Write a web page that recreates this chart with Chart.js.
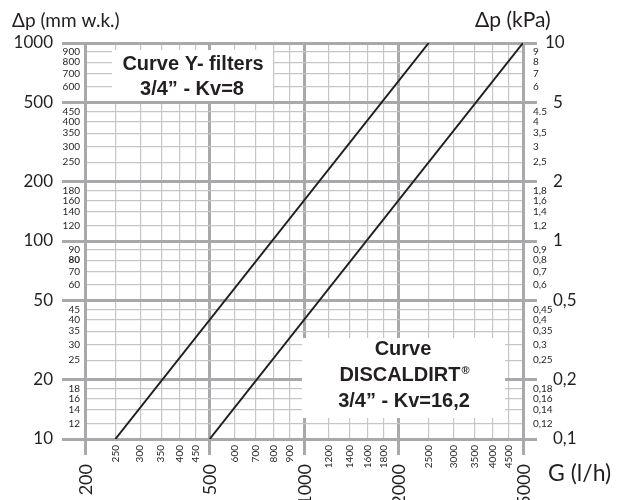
<!DOCTYPE html>
<html>
<head>
<meta charset="utf-8">
<script src="https://cdn.jsdelivr.net/npm/chart.js@4.4.1/dist/chart.umd.min.js"></script>
<style>
  html, body { margin: 0; padding: 0; background: #fff; }
  #wrap { width: 617px; height: 500px; }
</style>
</head>
<body>
<div id="wrap"><canvas id="chart" width="617" height="500"></canvas></div>
<script>
// flow rate G (l/h) grid values
const flowMajor = [200, 500, 1000, 2000, 5000];
const flowMinor = [250, 300, 350, 400, 450, 600, 700, 800, 900, 1200, 1400, 1600, 1800, 2500, 3000, 3500, 4000, 4500];
// pressure drop in mm w.k.
const dpMajor = [10, 20, 50, 100, 200, 500, 1000];
const dpMinor = [12, 14, 16, 18, 25, 30, 35, 40, 45, 60, 70, 80, 90, 120, 140, 160, 180, 250, 300, 350, 400, 450, 600, 700, 800, 900];
// pressure drop in kPa (right side labels)
const kpaMajor = ["10", "5", "2", "1", "0,5", "0,2", "0,1"];
const kpaMinor = ["9", "8", "7", "6", "4.5", "4", "3,5", "3", "2,5", "1,8", "1,6", "1,4", "1,2", "0,9", "0,8", "0,7", "0,6", "0,45", "0,4", "0,35", "0,3", "0,25", "0,18", "0,16", "0,14", "0,12"];

// the two curves (end points)
const yFilterFlow = [250, 2500];
const yFilterDp = [10, 1000];
const discalFlow = [500, 5000];
const discalDp = [10, 1000];

const kpaValue = s => parseFloat(s.replace(",", "."));

const MAJOR = "#a9a9ab";
const MINOR = "#c6c6c8";
const INK = "#231f20";
const LABEL_FONT = "Lato, 'DejaVu Sans', sans-serif";
const BOX_FONT = "bold 20px 'Liberation Sans', Arial, sans-serif";
const SMALL = "10px " + LABEL_FONT;

const isMajor = (list, v) => list.includes(v);

// draws the white text boxes, tick labels and axis titles
const labelPlugin = {
  id: "labels",
  beforeDatasetsDraw(chart) {
    const c = chart.ctx;
    c.save();
    c.fillStyle = "#fff";
    c.fillRect(112, 50, 161, 51);
    c.fillRect(302, 338, 203, 80);
    c.fillStyle = INK;
    c.font = BOX_FONT;
    c.textAlign = "center";
    c.textBaseline = "alphabetic";
    c.fillText("Curve Y- filters", 193, 70);
    c.fillText("3/4\u201d - Kv=8", 192, 95);
    c.fillText("Curve", 403, 355);
    // DISCALDIRT with a small raised ®
    const main = "DISCALDIRT";
    const w1 = c.measureText(main).width;
    c.font = "bold 11px 'Liberation Sans', Arial, sans-serif";
    const w2 = c.measureText("\u00ae").width;
    const start = 404 - (w1 + w2) / 2;
    c.textAlign = "left";
    c.fillText("\u00ae", start + w1 + 1, 374);
    c.font = BOX_FONT;
    c.fillText(main, start, 381);
    c.textAlign = "center";
    c.fillText("3/4\u201d - Kv=16,2", 404, 407);
    c.restore();
  },
  afterDraw(chart) {
    const c = chart.ctx;
    const x = chart.scales.x, y = chart.scales.y, y2 = chart.scales.y2;
    c.save();
    c.fillStyle = INK;

    // left axis
    c.textAlign = "right";
    c.textBaseline = "middle";
    c.font = "17px " + LABEL_FONT;
    dpMajor.forEach(v => c.fillText(String(v), 53, y.getPixelForValue(v)));
    dpMinor.forEach(v => {
      c.font = (v === 80 ? "bold " : "") + SMALL;
      c.fillText(String(v), 80, y.getPixelForValue(v));
    });

    // right axis
    c.textAlign = "left";
    c.font = "17px " + LABEL_FONT;
    kpaMajor.forEach(s => c.fillText(s, s === "10" ? 545 : 553, y2.getPixelForValue(kpaValue(s))));
    c.font = SMALL;
    kpaMinor.forEach(s => c.fillText(s, 533, y2.getPixelForValue(kpaValue(s))));

    // bottom axis, rotated labels
    const rot = (text, px, py, font) => {
      c.save();
      c.translate(px, py);
      c.rotate(-Math.PI / 2);
      c.font = font;
      c.textAlign = "right";
      c.textBaseline = "middle";
      c.fillText(text, 0, 0);
      c.restore();
    };
    flowMinor.forEach(v => rot(String(v), x.getPixelForValue(v), 445, SMALL));
    flowMajor.forEach(v => rot(String(v), x.getPixelForValue(v) + 1, 464, "18px " + LABEL_FONT));

    // axis titles
    c.textBaseline = "alphabetic";
    c.textAlign = "left";
    c.font = "19px " + LABEL_FONT;
    c.fillText("\u0394p (mm w.k.)", 12, 27);
    c.font = "21px " + LABEL_FONT;
    c.fillText("\u0394p (kPa)", 475, 27);
    c.font = "23px " + LABEL_FONT;
    c.fillText("G (l/h)", 548, 481);
    c.restore();
  }
};

const gridFor = (majors, len) => ({
  color: ctx => isMajor(majors, ctx.tick.value) ? MAJOR : MINOR,
  lineWidth: ctx => isMajor(majors, ctx.tick.value) ? 3 : 1.2,
  tickColor: ctx => isMajor(majors, ctx.tick.value) ? MAJOR : "rgba(0,0,0,0)",
  tickWidth: 3,
  tickLength: len
});

new Chart(document.getElementById("chart"), {
  type: "scatter",
  data: {
    datasets: [
      {
        label: "Y-filter Kv=8",
        data: yFilterFlow.map((g, i) => ({ x: g, y: yFilterDp[i] })),
        showLine: true,
        borderColor: INK,
        borderWidth: 2,
        pointRadius: 0
      },
      {
        label: "DISCALDIRT Kv=16,2",
        data: discalFlow.map((g, i) => ({ x: g, y: discalDp[i] })),
        showLine: true,
        borderColor: INK,
        borderWidth: 2,
        pointRadius: 0
      }
    ]
  },
  options: {
    responsive: false,
    animation: false,
    devicePixelRatio: 1,
    layout: { padding: { top: 43, left: 0, right: 0, bottom: 0 } },
    plugins: { legend: { display: false }, tooltip: { enabled: false } },
    scales: {
      x: {
        type: "logarithmic",
        position: "bottom",
        min: 200,
        max: 5000,
        afterBuildTicks: s => { s.ticks = [...flowMajor, ...flowMinor].sort((a, b) => a - b).map(v => ({ value: v })); },
        afterFit: s => { s.height = 61; },
        ticks: { display: false },
        grid: gridFor(flowMajor, 16),
        border: { color: MAJOR, width: 3 }
      },
      y: {
        type: "logarithmic",
        position: "left",
        min: 10,
        max: 1000,
        afterBuildTicks: s => { s.ticks = [...dpMajor, ...dpMinor].sort((a, b) => a - b).map(v => ({ value: v })); },
        afterFit: s => { s.width = 85; },
        ticks: { display: false },
        grid: gridFor(dpMajor, 23),
        border: { color: MAJOR, width: 3 }
      },
      y2: {
        type: "logarithmic",
        position: "right",
        min: 0.1,
        max: 10,
        afterBuildTicks: s => { s.ticks = kpaMajor.map(kpaValue).map(v => ({ value: v })); },
        afterFit: s => { s.width = 94; },
        ticks: { display: false },
        grid: {
          drawOnChartArea: false,
          color: MAJOR,
          lineWidth: 3,
          tickColor: MAJOR,
          tickWidth: 3,
          tickLength: 14
        },
        border: { color: MAJOR, width: 3 }
      }
    }
  },
  plugins: [labelPlugin]
});
</script>
</body>
</html>
